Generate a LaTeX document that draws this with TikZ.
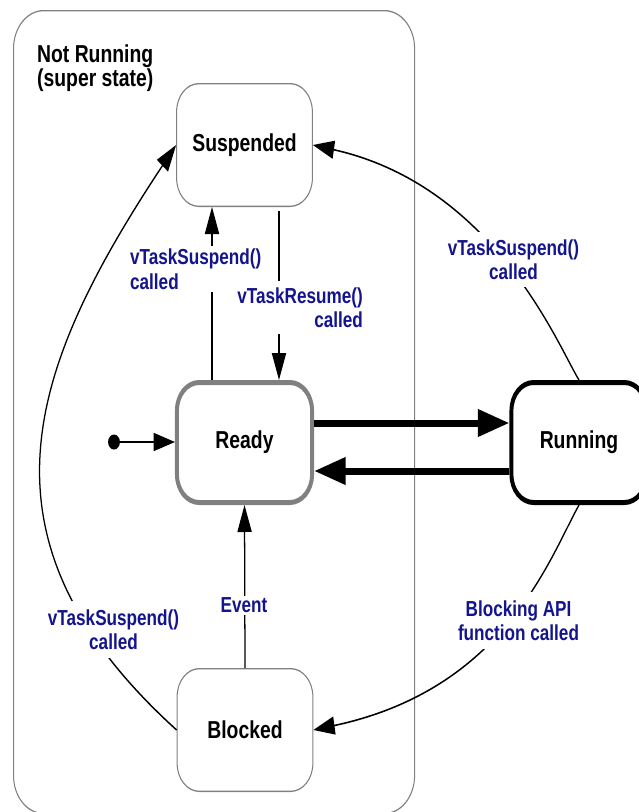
\documentclass[tikz,border=0pt]{standalone}
\usepackage{fontspec}
\setmainfont{Liberation Sans}
\usetikzlibrary{arrows.meta}
\definecolor{lblblue}{RGB}{20,20,140}
\definecolor{boxgray}{RGB}{128,128,128}
\newcommand\statefont{\fontsize{24.5}{29}\selectfont\bfseries}
\newcommand\lblfont{\fontsize{21.7}{24.3}\selectfont\bfseries}
\tikzset{
  statebox/.style={draw=boxgray, line width=1.3pt, rounded corners=28pt,
    minimum width=171.8pt, minimum height=122.7pt, inner sep=0pt, font=\statefont},
  activebox/.style={statebox, line width=5pt, minimum width=171pt, minimum height=120pt},
  conn/.style={line width=1.6pt, -{Triangle[length=27pt,width=18pt]}},
  bigarrow/.style={line width=7pt, -{Triangle[length=40pt,width=26pt]}},
  lbl/.style={fill=white, text=lblblue, inner xsep=2pt, font=\lblfont},
}
\begin{document}
\begin{tikzpicture}[x=1pt,y=-1pt]
\useasboundingbox (0,0) rectangle (638,812);
\begin{scope}[transform canvas={xscale=0.79}, x=1.265823pt, y=-1pt]
  % super state
  \node[draw=boxgray, line width=1.3pt, rounded corners=38pt, minimum width=507.7pt,
        minimum height=802.8pt, anchor=north west, inner sep=0pt] (super) at (13,10) {};
  \node[anchor=north west, inner sep=0pt, align=left,
        font=\fontsize{24.5}{24}\selectfont\bfseries] (suptitle) at (37,44.2) {Not Running\\(super state)};
  % states
  \node[statebox] (suspended) at (244.5,145) {Suspended};
  \node[activebox, draw=boxgray] (ready) at (244.5,442.5) {Ready};
  \node[activebox, draw=black] (running) at (579,442.5) {Running};
  \node[statebox] (blocked) at (245,730) {Blocked};
  \node[circle, fill=black, inner sep=0pt, minimum size=15pt] (init) at (114,442) {};
  % helper coordinates
  \coordinate (xl) at (212,0);
  \coordinate (xr) at (279,0);
  \coordinate (yu) at (0,423);
  \coordinate (yd) at (0,471);
  % connectors
  \draw[conn] (init) -- (ready.west |- init);
  \draw[conn] (ready.north -| xl) -- (suspended.south -| xl);
  \draw[conn, shorten <=4pt] (suspended.south -| xr) -- (ready.north -| xr);
  \draw[conn] (blocked.north) -- (ready.south);
  \draw[bigarrow] (ready.east |- yu) -- (running.west |- yu);
  \draw[bigarrow] (running.west |- yd) -- (ready.east |- yd);
  \draw[conn] (running.north) .. controls (558,346) and (495,186) .. (suspended.east);
  \draw[conn] (running.south) .. controls (549,559) and (505,689) .. (blocked.east);
  \draw[conn] (blocked.west) .. controls (-34,539) and (28,369) .. (suspended.west);
  % labels
  \node[lbl, inner ysep=3pt, anchor=north west, align=left] (l1) at (128.4,246) {vTaskSuspend()\\called};
  \node[lbl, inner ysep=6pt, anchor=north east, align=right] (l2) at (364.6,281.2) {vTaskResume()\\called};
  \node[lbl, inner ysep=7pt, anchor=north, align=center] (l3) at (513.5,232.2) {vTaskSuspend()\\called};
  \node[lbl, inner ysep=8pt, anchor=north, align=center] (l4) at (518.5,592.2) {Blocking API\\function called};
  \node[lbl, inner ysep=8pt, anchor=north, align=center] (l5) at (113.5,601.2) {vTaskSuspend()\\called};
  \node[lbl, inner ysep=2pt, anchor=base] (l6) at (244,612.7) {Event};
\end{scope}
\end{tikzpicture}
\end{document}
